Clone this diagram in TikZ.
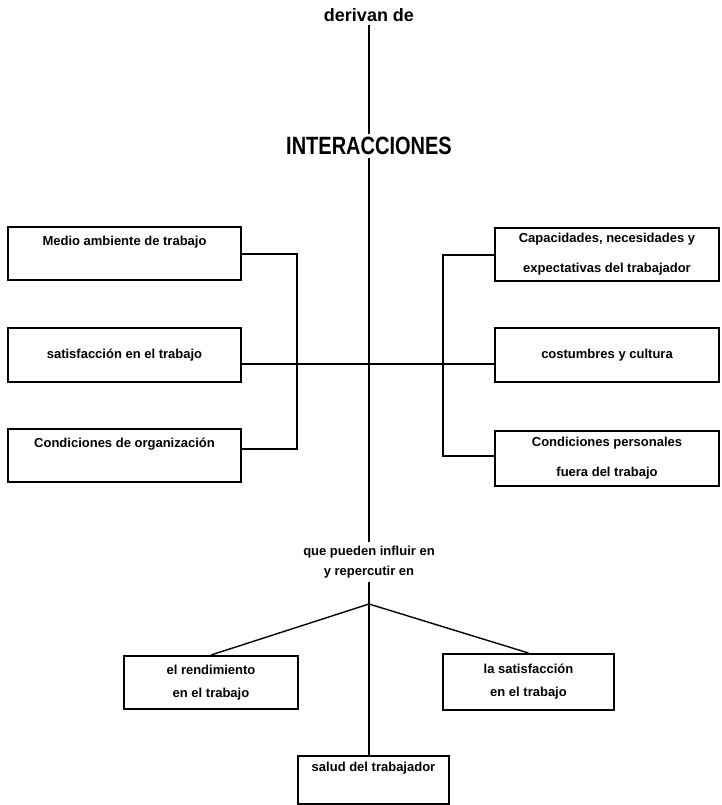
\documentclass[tikz,border=0pt]{standalone}
\usepackage{fontspec}
\setmainfont{Liberation Sans}
\usepackage{tikz}
\usetikzlibrary{positioning,calc}

\begin{document}
\begin{tikzpicture}[x=1pt,y=-1pt,
    caja/.style={draw, line width=2pt, anchor=north west, align=center, inner sep=0pt, font=\bfseries\fontsize{13}{26}\selectfont},
    linea/.style={line width=2pt}]
    \useasboundingbox (0,0) rectangle (721,805);

    \node [font=\bfseries\fontsize{18}{20}\selectfont] (derivan) at (369,15) {derivan de};
    \node [font=\bfseries\fontsize{20}{22}\selectfont] (inter) at (369,146) {\scalebox{1}[1.25]{INTERACCIONES}};
    \node [font=\bfseries\fontsize{13}{20}\selectfont, align=center] (influir) at (369,562) {que pueden influir en\\y repercutir en};

    \node [caja, minimum width=233pt, minimum height=53pt] (medio) at (7,226) {Medio ambiente de trabajo\\\mbox{}};
    \node [caja, minimum width=233pt, minimum height=54pt] (satisf) at (7,327) {satisfacción en el trabajo};
    \node [caja, minimum width=233pt, minimum height=53pt] (organizacion) at (7,428) {Condiciones de organización\\\mbox{}};

    \node [caja, minimum width=224pt, minimum height=53pt] (capacidades) at (494,227) {Capacidades, necesidades y\\[4pt]expectativas del trabajador};
    \node [caja, minimum width=224pt, minimum height=54pt] (costumbres) at (494,327) {costumbres y cultura};
    \node [caja, minimum width=224pt, minimum height=55pt] (personales) at (494,430) {Condiciones personales\\[4pt]fuera del trabajo};

    \node [caja, minimum width=174pt, minimum height=53pt] (rendimiento) at (123,655) {el rendimiento\\[-3pt]en el trabajo};
    \node [caja, minimum width=171pt, minimum height=56pt] (lasatisf) at (442,653) {la satisfacción\\[-3pt]en el trabajo};
    \node [caja, minimum width=151pt, minimum height=48pt] (salud) at (297,755) {salud del trabajador\\\mbox{}};

    \coordinate (izq) at (297,364);
    \coordinate (der) at (443,364);
    \coordinate (cruce) at (369,364);
    \coordinate (rama) at (369,604);

    \draw [linea] (derivan) -- (inter);
    \draw [linea] (inter) -- (influir);
    \draw [linea] (influir) -- (influir |- salud.north);
    \draw [linea] (medio.east) -| (izq) |- ([yshift=7pt]organizacion.east);
    \draw [linea] (capacidades.west) -| (der) |- ([yshift=3pt]personales.west);
    \draw [linea] (satisf.east |- cruce) -- (costumbres.west |- cruce);
    \draw [line width=1.4pt] (rama) -- (rendimiento.north);
    \draw [line width=1.4pt] (rama) -- (lasatisf.north);
\end{tikzpicture}
\end{document}
